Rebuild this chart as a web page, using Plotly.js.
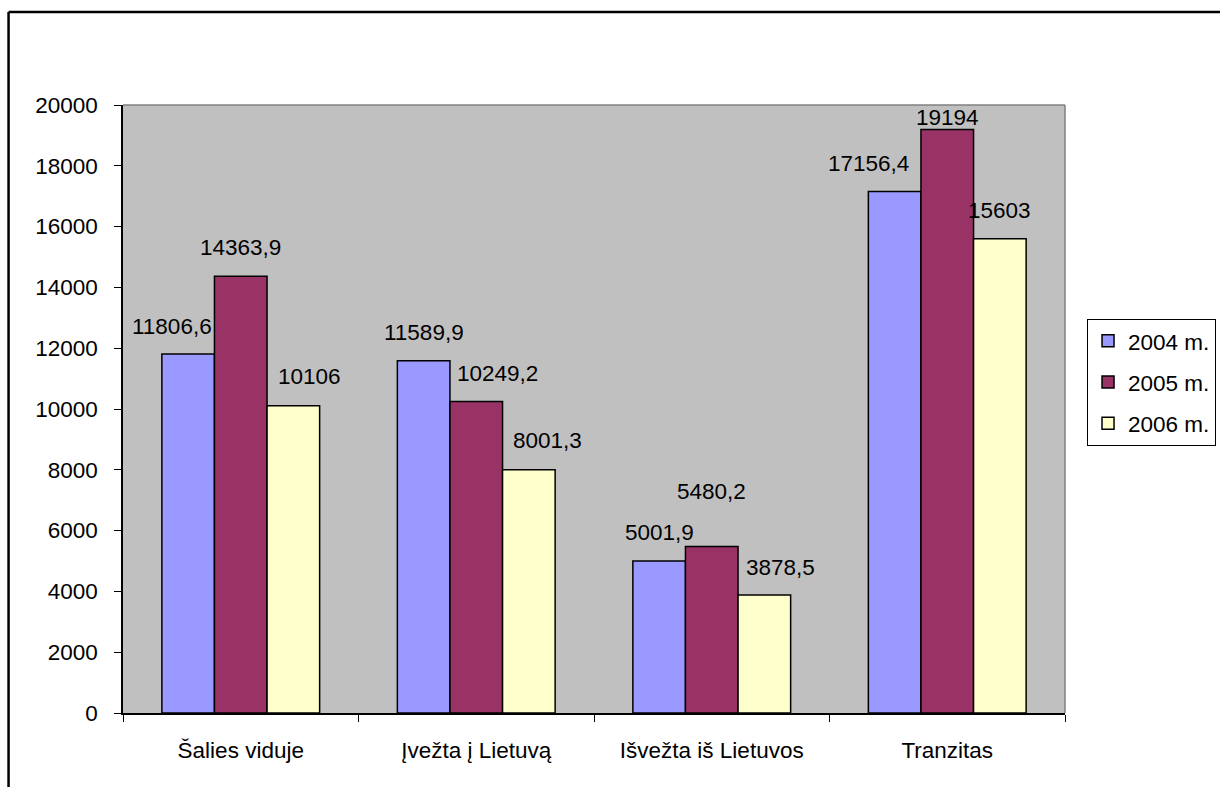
<!DOCTYPE html>
<html>
<head>
<meta charset="utf-8">
<script src="https://cdn.plot.ly/plotly-3.0.1.min.js"></script>
<style>
  html, body { margin: 0; padding: 0; background: #ffffff; }
  #chart { width: 1220px; height: 787px; }
</style>
</head>
<body>
<div id="chart"></div>
<script>
// ---- data ----
var categories = ["Šalies viduje", "Įvežta į Lietuvą", "Išvežta iš Lietuvos", "Tranzitas"];
var seriesNames = ["2004 m.", "2005 m.", "2006 m."];
var values2004 = [11806.6, 11589.9, 5001.9, 17156.4];
var values2005 = [14363.9, 10249.2, 5480.2, 19194];
var values2006 = [10106, 8001.3, 3878.5, 15603];
var yTicks = [0, 2000, 4000, 6000, 8000, 10000, 12000, 14000, 16000, 18000, 20000];

// ---- style ----
var colors = ["#9999FF", "#993366", "#FFFFCC"];
var FONT = "Liberation Sans, Arial, sans-serif";
var fontSize = 22.5;
var bargap = 0.33;
// label nudges in px [series][category] -> [dx, dy]
var labelNudge = [
  [[-16, 28], [0, 28], [0, 28], [-26, 28]],
  [[0, 29], [21, 28], [0, 55], [0, 12]],
  [[16, 29], [19, 29], [16, 28], [0, 28]]
];

function fmt(v) { return String(v).replace(".", ","); }

var allSeries = [values2004, values2005, values2006];
var traces = allSeries.map(function (vals, i) {
  return {
    type: "bar",
    name: seriesNames[i],
    x: categories,
    y: vals,
    legendgroup: "g" + i,
    marker: { color: colors[i], line: { color: "#000000", width: 1.5 } },
    hoverinfo: "x+y+name"
  };
});

var barW = (1 - bargap) / allSeries.length;
var annotations = [];
allSeries.forEach(function (vals, i) {
  vals.forEach(function (v, j) {
    annotations.push({
      x: j + (i - (allSeries.length - 1) / 2) * barW,
      y: v,
      xref: "x", yref: "y",
      text: fmt(v),
      showarrow: false,
      xanchor: "center", yanchor: "middle",
      xshift: labelNudge[i][j][0],
      yshift: labelNudge[i][j][1],
      font: { family: FONT, size: fontSize, color: "#000000" }
    });
  });
});

var layout = {
  width: 1220,
  height: 787,
  margin: { l: 123, r: 155, t: 105, b: 74, pad: 0 },
  paper_bgcolor: "#ffffff",
  plot_bgcolor: "#C0C0C0",
  font: { family: FONT, size: fontSize, color: "#000000" },
  barmode: "group",
  bargap: bargap,
  bargroupgap: 0,
  showlegend: true,
  legend: {
    xref: "container", yref: "container",
    x: 0.891, y: 0.595, xanchor: "left", yanchor: "top",
    bgcolor: "#ffffff", bordercolor: "#000000", borderwidth: 1,
    font: { family: FONT, size: fontSize, color: "#000000" },
    tracegroupgap: 9,
    itemwidth: 30
  },
  xaxis: {
    type: "category",
    showgrid: false,
    zeroline: false,
    showline: true, linecolor: "#000000", linewidth: 1.5,
    ticks: "outside", ticklen: 7, tickcolor: "#000000", tickwidth: 1,
    tickson: "boundaries",
    ticklabelstandoff: 16,
    tickfont: { family: FONT, size: fontSize, color: "#000000" }
  },
  yaxis: {
    range: [0, 20000],
    tickvals: yTicks,
    ticktext: yTicks.map(String),
    showgrid: false,
    zeroline: false,
    showline: true, linecolor: "#000000", linewidth: 1.5,
    ticks: "outside", ticklen: 7, tickcolor: "#000000", tickwidth: 1,
    ticklabelstandoff: 12,
    tickfont: { family: FONT, size: fontSize, color: "#000000" }
  },
  annotations: annotations,
  shapes: [
    { type: "line", xref: "paper", yref: "paper", x0: 0, x1: 1, y0: 1, y1: 1,
      line: { color: "#808080", width: 1.5 } },
    { type: "line", xref: "paper", yref: "paper", x0: 1, x1: 1, y0: 0, y1: 1,
      line: { color: "#808080", width: 1.5 } },
    { type: "line", xref: "paper", yref: "paper",
      x0: -0.1215, x1: -0.1215, y0: -0.13, y1: 1.153,
      line: { color: "#000000", width: 2.5 } },
    { type: "line", xref: "paper", yref: "paper",
      x0: -0.1215, x1: 1.18, y0: 1.153, y1: 1.153,
      line: { color: "#000000", width: 2.5 } }
  ]
};

Plotly.newPlot("chart", traces, layout, { displayModeBar: false, responsive: false });
</script>
</body>
</html>
